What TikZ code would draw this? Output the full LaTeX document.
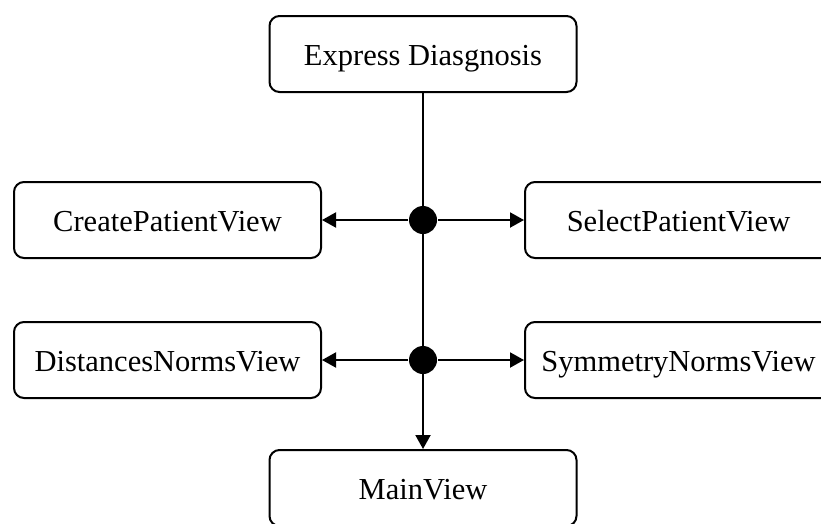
\documentclass[tikz,border=0pt]{standalone}
\usepackage{fontspec}
\setmainfont{Liberation Serif}
\usetikzlibrary{arrows.meta}

\begin{document}
\begin{tikzpicture}[x=1pt, y=-1pt, >={Triangle[length=14pt, width=15pt]}, line width=2pt,
		view/.style={draw, rounded corners=10pt, minimum width=307pt, minimum height=76pt,
			inner sep=0pt, text height=22pt, text depth=0pt, font=\fontsize{30.5}{36}\selectfont},
		junction/.style={circle, fill, inner sep=0pt, minimum size=28pt}]
		\clip (0,0) rectangle (821,523);
		\node[view] (express) at (423,54) {Express Diasgnosis};
		\node[view] (create) at (167.5,220) {CreatePatientView};
		\node[view] (select) at (678.5,220) {SelectPatientView};
		\node[view] (distances) at (167.5,360) {DistancesNormsView};
		\node[view] (symmetry) at (678.5,360) {SymmetryNormsView};
		\node[view] (mainview) at (423,488) {MainView};
		\node[junction] (forkA) at (423,220) {};
		\node[junction] (forkB) at (423,360) {};
		\draw[->] (express) -- (mainview);
		\foreach \j/\l/\r in {forkA/create/select, forkB/distances/symmetry}{
			\draw[->] (\j) -- (\l);
			\draw[->] (\j) -- (\r);
		}
	\end{tikzpicture}
\end{document}
